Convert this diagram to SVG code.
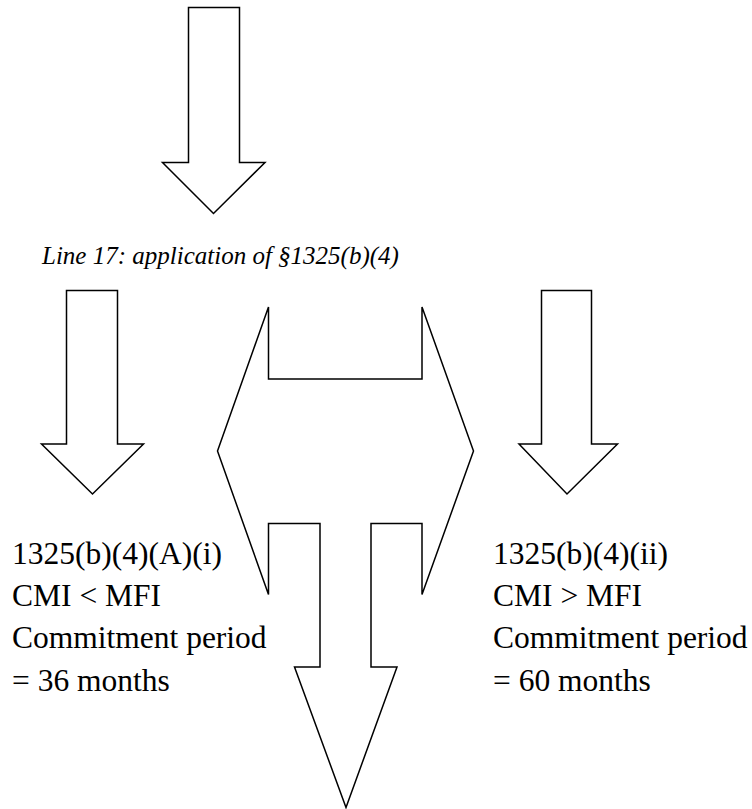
<svg xmlns="http://www.w3.org/2000/svg" width="752" height="809" viewBox="0 0 752 809">
<style>
.shape{fill:#fff;stroke:#000;stroke-width:1.5;stroke-linejoin:miter}
.t{font-family:"Liberation Serif","Times New Roman",serif;font-size:31.5px;fill:#000}
.it{font-family:"Liberation Serif","Times New Roman",serif;font-size:25px;font-style:italic;fill:#000}
</style>
<rect width="752" height="809" fill="#fff"/>
<g id="connectors">
<polygon id="arrow-top" class="shape" points="188.5,7.5 239.5,7.5 239.5,162.5 265,162.5 213.5,213.5 162.5,162.5 188.5,162.5"/>
<polygon id="arrow-left" class="shape" points="66.5,290.5 117.5,290.5 117.5,444 143.5,444 92.5,494 41.5,444 66.5,444"/>
<polygon id="arrow-right" class="shape" points="541.5,290.5 591.5,290.5 591.5,444 617.5,444 567,494 519,444 541.5,444"/>
<polygon id="arrow-three-way" class="shape" points="268.5,307 268.5,379 422,379 422,307 473.5,451 422,594.5 422,523.5 371,523.5 371,667 397,667 346,807.5 294.5,667 320,667 320,523.5 268.5,523.5 268.5,594.5 217.5,451"/>
</g>
<g id="title">
<text class="it" x="42" y="264">Line 17: application of §1325(b)(4)</text>
</g>
<g id="node-left">
<text class="t" x="12" y="563.5">1325(b)(4)(A)(i)</text>
<text class="t" x="12" y="606">CMI &lt; MFI</text>
<text class="t" x="12" y="648">Commitment period</text>
<text class="t" x="12" y="690.5">= 36 months</text>
</g>
<g id="node-right">
<text class="t" x="493" y="563.5">1325(b)(4)(ii)</text>
<text class="t" x="493" y="606">CMI &gt; MFI</text>
<text class="t" x="493" y="648">Commitment period</text>
<text class="t" x="493" y="690.5">= 60 months</text>
</g>
</svg>
